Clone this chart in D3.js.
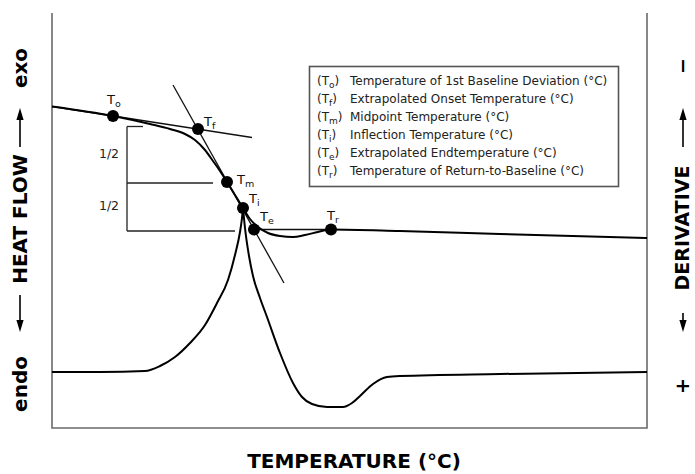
<!DOCTYPE html>
<html>
<head>
<meta charset="utf-8">
<script src="https://cdn.jsdelivr.net/npm/d3@7"></script>
<style>
  html, body { margin: 0; padding: 0; background: #fff; }
  svg { display: block; font-family: "DejaVu Sans", Verdana, sans-serif; }
</style>
</head>
<body>
<svg id="chart" width="695" height="474"></svg>
<script>
// Heat flow signal across the transition: [temperature, heat flow]
const heatFlow = [
  [0, 64.3], [12.2, 62.4], [19.6, 60.8], [23.6, 59.8], [26.6, 58.8],
  [28.6, 57.6], [30.6, 55.6], [32.2, 53.4], [33.6, 51.4], [35.0, 49.2],
  [36.6, 46.6], [38.2, 44.0], [39.6, 41.8], [41.2, 40.2], [43.2, 39.0],
  [45.6, 38.4], [48.2, 38.2], [50.6, 38.6], [53.2, 39.2], [55.8, 39.7],
  [69.6, 39.4], [89.6, 38.8], [119, 38.0]
];

// First derivative of heat flow: rising branch up to the inflection peak, then falling branch
const derivRise = [
  [0, 0], [9.6, 0], [18.6, -0.2], [21.6, -1.2], [24.6, -3], [27.6, -5.8],
  [30.6, -9.4], [33.0, -13.8], [35.2, -18.4], [36.6, -23.4], [37.6, -28],
  [38.0, -30.8], [38.2, -32.8]
];
const derivFall = [
  [38.2, -32.8], [38.6, -28.8], [39.4, -23.2], [40.2, -19.2], [41.6, -14.8],
  [43.0, -11], [45.6, -3.8], [48.2, 2.2], [50.0, 5], [52.0, 6.4], [55.0, 7],
  [58.2, 7], [60.0, 6.2], [61.6, 4.8], [64.2, 2.4], [67.0, 1], [69.6, 0.8],
  [89.6, 0.4], [119, 0]
];

// Construction lines used to find the characteristic temperatures
const onsetBaseline = [[0, 64.3], [40, 58.1]];
const steepTangent = [[24.2, 68.6], [46.4, 29.0]];
const endBaseline = [[39.2, 39.7], [55.8, 39.7]];

// Half-height bracket: x of the bracket, heat flow levels (top, middle, bottom), arm ends
const bracketT = 15;
const halfLevels = [60.3, 49.0, 39.4];
const halfArmEnds = [18.2, 32.2, 36.6];
const halfLabels = ["1/2", "1/2"];

// Characteristic temperatures
const markers = [
  { sym: "o", t: 12.2, h: 62.4 },
  { sym: "f", t: 29.2, h: 59.8 },
  { sym: "m", t: 35.0, h: 49.2 },
  { sym: "i", t: 38.2, h: 44.0 },
  { sym: "e", t: 40.4, h: 39.7 },
  { sym: "r", t: 55.8, h: 39.7 }
];

const legendItems = [
  ["o", "Temperature of 1st Baseline Deviation (°C)"],
  ["f", "Extrapolated Onset Temperature (°C)"],
  ["m", "Midpoint Temperature (°C)"],
  ["i", "Inflection Temperature (°C)"],
  ["e", "Extrapolated Endtemperature (°C)"],
  ["r", "Temperature of Return-to-Baseline (°C)"]
];

const xTitle = "TEMPERATURE (°C)";
const yLeft = ["endo", "HEAT FLOW", "exo"];
const yRight = ["+", "DERIVATIVE", "−"];

// ---- layout ----
const svg = d3.select("#chart");
const plot = { left: 52, right: 647, top: 13, bottom: 428 };

const x = d3.scaleLinear().domain([0, 119]).range([plot.left, plot.right]);
const yHeat = d3.scaleLinear().domain([0, 83]).range([plot.bottom, plot.top]);
const yDeriv = d3.scaleLinear().domain([11.2, -71.8]).range([plot.bottom, plot.top]);

const heatLine = d3.line().x(d => x(d[0])).y(d => yHeat(d[1])).curve(d3.curveMonotoneX);
const derivLine = d3.line().x(d => x(d[0])).y(d => yDeriv(d[1])).curve(d3.curveMonotoneX);
const straight = d3.line().x(d => x(d[0])).y(d => yHeat(d[1]));

// Frame: open at the top
svg.append("path")
  .attr("d", `M${plot.left},${plot.top}V${plot.bottom}H${plot.right}V${plot.top}`)
  .attr("fill", "none").attr("stroke", "#6a6a6a").attr("stroke-width", 1.6);

// Construction lines
[onsetBaseline, steepTangent, endBaseline].forEach(seg => {
  svg.append("path").attr("d", straight(seg))
    .attr("fill", "none").attr("stroke", "#111").attr("stroke-width", 1.3);
});

// Half-height bracket
const bx = x(bracketT);
svg.append("line")
  .attr("x1", bx).attr("x2", bx)
  .attr("y1", yHeat(halfLevels[0])).attr("y2", yHeat(halfLevels[2]))
  .attr("stroke", "#222").attr("stroke-width", 1.3);
halfLevels.forEach((lv, i) => {
  svg.append("line")
    .attr("x1", bx).attr("x2", x(halfArmEnds[i]))
    .attr("y1", yHeat(lv)).attr("y2", yHeat(lv))
    .attr("stroke", "#222").attr("stroke-width", 1.3);
});
halfLabels.forEach((lab, i) => {
  const ymid = (yHeat(halfLevels[i]) + yHeat(halfLevels[i + 1])) / 2;
  svg.append("text")
    .attr("x", bx - 18).attr("y", ymid + 3)
    .attr("text-anchor", "middle").attr("font-size", 12.5).attr("fill", "#222")
    .text(lab);
});

// Curves
svg.append("path").attr("d", heatLine(heatFlow))
  .attr("fill", "none").attr("stroke", "#000").attr("stroke-width", 2);
svg.append("path").attr("d", derivLine(derivRise))
  .attr("fill", "none").attr("stroke", "#000").attr("stroke-width", 2);
svg.append("path").attr("d", derivLine(derivFall))
  .attr("fill", "none").attr("stroke", "#000").attr("stroke-width", 2);

// Markers and their labels
const labelOffset = { o: [-6, -12], f: [6, -3], m: [10, 2], i: [6, -5], e: [6, -9], r: [-4, -10] };
markers.forEach(m => {
  const cx = x(m.t), cy = yHeat(m.h);
  svg.append("circle").attr("cx", cx).attr("cy", cy).attr("r", 6).attr("fill", "#000");
  const off = labelOffset[m.sym];
  const t = svg.append("text")
    .attr("x", cx + off[0]).attr("y", cy + off[1])
    .attr("font-size", 13).attr("fill", "#111");
  t.append("tspan").text("T");
  t.append("tspan").attr("dy", 3).attr("font-size", 9.5).text(m.sym);
});

// Legend
const lg = { x: 309, y: 66, w: 309, h: 120, row: 18 };
svg.append("rect")
  .attr("x", lg.x + 0.5).attr("y", lg.y + 0.5).attr("width", lg.w).attr("height", lg.h)
  .attr("fill", "#fff").attr("stroke", "#555").attr("stroke-width", 1.6);
legendItems.forEach((it, i) => {
  const by = lg.y + 19 + i * lg.row;
  const code = svg.append("text").attr("x", lg.x + 8).attr("y", by)
    .attr("font-size", 12).attr("fill", "#222");
  code.append("tspan").text("(T");
  code.append("tspan").attr("dy", 3).attr("font-size", 9).text(it[0]);
  code.append("tspan").attr("dy", -3).text(")");
  svg.append("text").attr("x", lg.x + 41).attr("y", by)
    .attr("font-size", 12).attr("fill", "#222").text(it[1]);
});

// Bottom axis title
svg.append("text")
  .attr("x", 354).attr("y", 468)
  .attr("text-anchor", "middle").attr("font-size", 20).attr("font-weight", "bold")
  .attr("fill", "#000").text(xTitle);

// Rotated side titles with arrows
function arrow(g, from, to, off) {
  // from/to are screen-y positions along the rotated axis; the tip is at "to"
  const a = -from, b = -to;
  const dir = Math.sign(b - a);
  g.append("line").attr("x1", a).attr("x2", b - dir * 8).attr("y1", off).attr("y2", off)
    .attr("stroke", "#000").attr("stroke-width", 1.6);
  g.append("path")
    .attr("d", `M${b},${off}L${b - dir * 12},${off - 3.6}L${b - dir * 12},${off + 3.6}Z`)
    .attr("fill", "#000");
}
function sideTitle(bx, labels, pos, arrows, off, size) {
  const g = svg.append("g").attr("transform", `translate(${bx},0) rotate(-90)`);
  labels.forEach((lab, i) => {
    g.append("text").attr("x", -pos[i]).attr("y", 0)
      .attr("text-anchor", "middle").attr("font-size", size).attr("font-weight", "bold")
      .attr("fill", "#000").text(lab);
  });
  arrows.forEach(a => arrow(g, a[0], a[1], off));
}
sideTitle(27, yLeft, [384, 219, 68], [[295, 332], [147, 108]], -7, 20);
sideTitle(689, yRight, [386, 228, 66], [[313, 332], [147, 108]], -6, 19);
</script>
</body>
</html>
